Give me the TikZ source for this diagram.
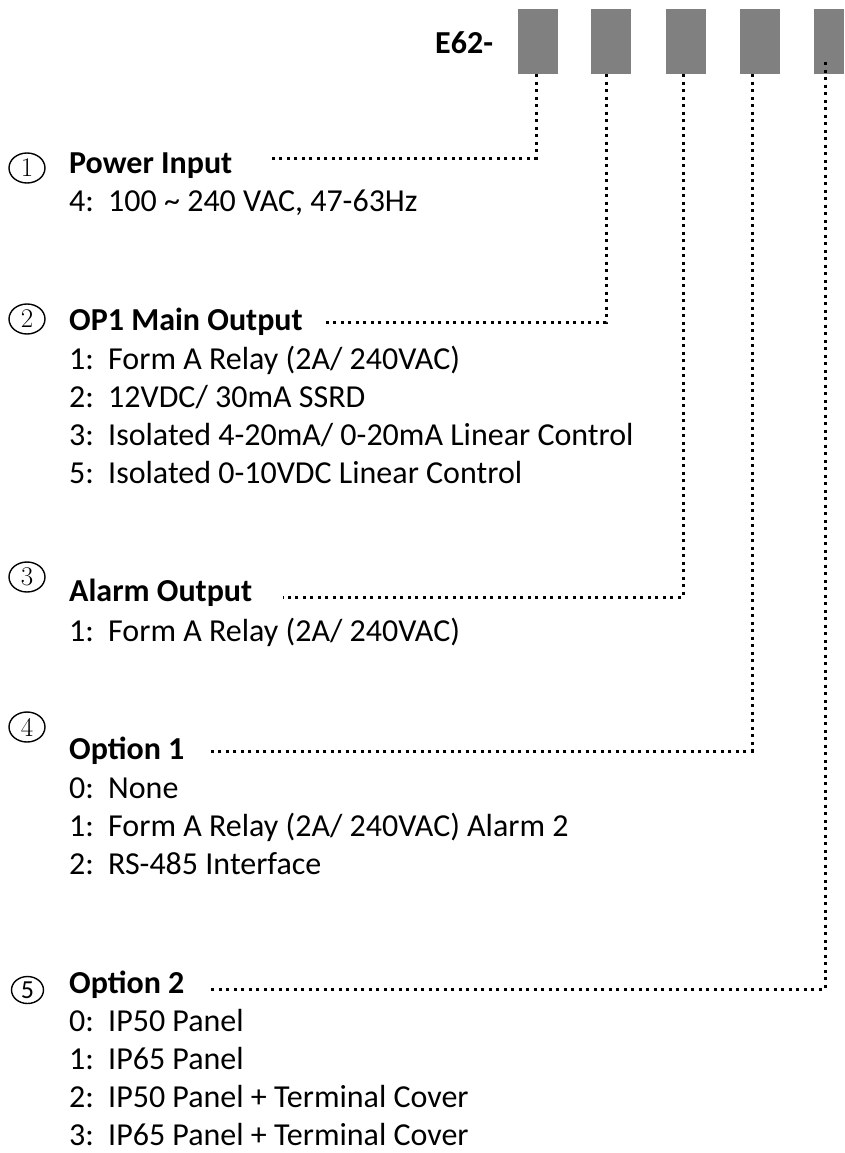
\documentclass[tikz,border=0pt]{standalone}
\usepackage{fontspec}
\setmainfont{Carlito}
\newfontfamily\numfont{Latin Modern Roman}
\usetikzlibrary{shapes.geometric}
\definecolor{boxgray}{RGB}{128,128,128}
\newcommand\lab[1]{\makebox[39pt][l]{#1}}
\begin{document}
\begin{tikzpicture}[x=1pt,y=-1pt,
  hd/.style={anchor=base west,inner sep=0pt,font=\fontsize{32}{38}\selectfont\bfseries},
  itm/.style={anchor=base west,inner sep=0pt,font=\fontsize{32}{38}\selectfont},
  codebox/.style={fill=boxgray,draw=none,minimum width=40pt,minimum height=65pt,inner sep=0pt},
  dotline/.style={line width=3pt,dash pattern=on 3pt off 4.5pt},
  num/.style={ellipse,draw,line width=1.4pt,minimum width=36pt,minimum height=30pt,inner sep=0pt,font=\numfont\fontsize{27}{27}\selectfont}]
\fill[white] (0,0) rectangle (844,1153);
\useasboundingbox (0,0) rectangle (844,1153);
% code boxes
\node[codebox] (b1) at (538,41.5) {};
\node[codebox] (b2) at (611,41.5) {};
\node[codebox] (b3) at (686,41.5) {};
\node[codebox] (b4) at (760,41.5) {};
\node[codebox,minimum width=30pt] (b5) at (829,41.5) {};
\node[hd] (e62) at (435,54) {E62-};
% numbers
\node[num] (n1) at (27,168) {1};
\node[num] (n2) at (27,319) {2};
\node[num] (n3) at (27,577) {3};
\node[num] (n4) at (27,727) {4};
\node[num,minimum width=32pt,minimum height=27pt,font=\fontsize{26}{26}\selectfont] (n5) at (27.5,990) {5};
% headings
\node[hd] (h1) at (69,173) {Power Input};
\node[hd] (h2) at (69,330) {OP1 Main Output};
\node[hd] (h3) at (69,601) {Alarm Output};
\node[hd] (h4) at (69,759) {Option 1};
\node[hd] (h5) at (69,993) {Option 2};
% items
\node[itm] (p1) at (69,211) {\lab{4:}100 \textasciitilde{} 240 VAC, 47-63Hz};
\node[itm] (o1) at (69,369) {\lab{1:}Form A Relay (2A/ 240VAC)};
\node[itm] (o2) at (69,407) {\lab{2:}12VDC/ 30mA SSRD};
\node[itm] (o3) at (69,445) {\lab{3:}Isolated 4-20mA/ 0-20mA Linear Control};
\node[itm] (o5) at (69,483) {\lab{5:}Isolated 0-10VDC Linear Control};
\node[itm] (a1) at (69,641) {\lab{1:}Form A Relay (2A/ 240VAC)};
\node[itm] (q0) at (69,798) {\lab{0:}None};
\node[itm] (q1) at (69,836) {\lab{1:}Form A Relay (2A/ 240VAC) Alarm 2};
\node[itm] (q2) at (69,874) {\lab{2:}RS-485 Interface};
\node[itm] (r0) at (69,1031) {\lab{0:}IP50 Panel};
\node[itm] (r1) at (69,1069) {\lab{1:}IP65 Panel};
\node[itm] (r2) at (69,1107) {\lab{2:}IP50 Panel + Terminal Cover};
\node[itm] (r3) at (69,1145) {\lab{3:}IP65 Panel + Terminal Cover};
% connector ends
\coordinate (e1) at (268,158);
\coordinate (e2) at (325,322);
\coordinate (e3) at (283,597);
\coordinate (e4) at (207,751);
\coordinate (e5) at (209,989);
\draw[dotline] ([xshift=-2pt]b1.south) |- (e1);
\draw[dotline] ([xshift=-5pt]b2.south) |- (e2);
\draw[dotline] ([xshift=-3pt]b3.south) |- (e3);
\draw[dotline] ([xshift=-8pt]b4.south) |- (e4);
\draw[dotline] ([xshift=-4pt,yshift=12pt]b5.south) |- (e5);
\end{tikzpicture}
\end{document}
